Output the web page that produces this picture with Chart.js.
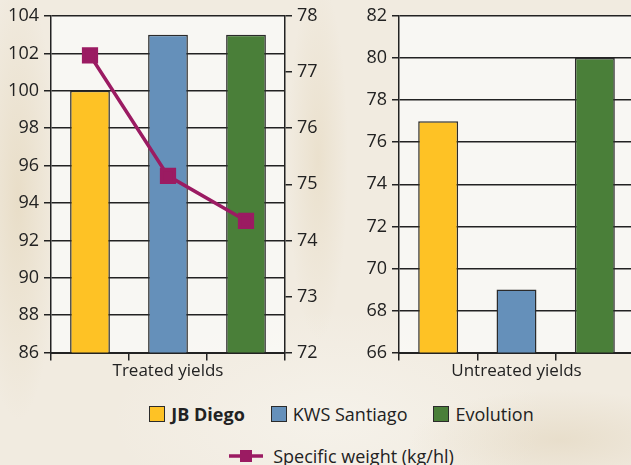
<!doctype html>
<html>

<head>
    <title>Treated and untreated yields</title>
    <script src="https://cdn.jsdelivr.net/npm/chart.js"></script>
    <style>
        body {
            margin: 0;
            width: 631px;
            height: 465px;
            overflow: hidden;
            position: relative;
            font-family: 'Open Sans', sans-serif;
            color: #222;
            background-color: #f1ebe0;
            background-image:
                radial-gradient(ellipse 40px 220px at 18px 200px, rgba(222, 205, 170, 0.45), transparent),
                radial-gradient(ellipse 30px 180px at 318px 160px, rgba(222, 205, 170, 0.35), transparent),
                radial-gradient(ellipse 150px 50px at 560px 440px, rgba(215, 198, 165, 0.35), transparent),
                radial-gradient(ellipse 220px 110px at 330px 420px, rgba(248, 246, 240, 0.6), transparent);
        }

        .box {
            position: absolute;
        }

        #legend {
            position: absolute;
            left: 26px;
            width: 631px;
            top: 400px;
            font-size: 18px;
        }

        .row {
            display: flex;
            justify-content: center;
            align-items: center;
            height: 28px;
        }

        .item {
            display: flex;
            align-items: center;
            margin: 0 13px;
        }

        .swatch {
            width: 14px;
            height: 14px;
            border: 1.5px solid #2b2b2b;
            margin-right: 6px;
        }
    </style>
</head>

<body>
    <div class="box" style="left:0;top:0;width:340px;height:385px"><canvas id="treated"></canvas></div>
    <div class="box" style="left:340px;top:0;width:340px;height:385px"><canvas id="untreated"></canvas></div>
    <div id="legend"></div>
    <script>
        const varieties = ['JB Diego', 'KWS Santiago', 'Evolution']
        const colours = ['#fec225', '#6590ba', '#4a7f39']
        const treated = [100, 103, 103]
        const untreated = [77, 69, 80]
        const specificWeight = [77.3, 75.15, 74.35]
        const lineColour = '#9b1b62'
        const lineLabel = 'Specific weight (kg/hl)'

        const tickFont = { family: 'Open Sans', size: 18 }
        const titleFont = { family: 'Open Sans', size: 17 }
        const ink = '#222'

        // pale panel behind each plot
        const plotBg = {
            id: 'plotBg',
            beforeDraw(chart) {
                const a = chart.chartArea
                const ctx = chart.ctx
                ctx.save()
                ctx.fillStyle = 'rgba(250, 250, 248, 0.8)'
                ctx.fillRect(a.left, a.top, a.right - a.left, a.bottom - a.top)
                ctx.restore()
            }
        }

        function xAxis(title) {
            return {
                offset: true,
                grid: { offset: true, drawOnChartArea: false, color: ink, lineWidth: 1.5, tickLength: 8 },
                border: { color: ink, width: 2 },
                ticks: { display: false },
                title: { display: true, text: title, color: ink, font: titleFont, padding: { top: 0 } }
            }
        }

        function yAxis(min, max, step, width, position) {
            return {
                position: position,
                min: min,
                max: max,
                afterFit: s => { s.width = width },
                grid: {
                    drawOnChartArea: position === 'left',
                    color: ink, lineWidth: 1.5, tickLength: 7
                },
                border: { color: ink, width: 1.5 },
                ticks: { stepSize: step, color: ink, font: tickFont, padding: 5 }
            }
        }

        const barSet = values => ({
            type: 'bar',
            data: values,
            backgroundColor: colours,
            borderColor: '#2b2b2b',
            borderWidth: 1.5,
            categoryPercentage: 1,
            barPercentage: 0.51,
            order: 1
        })

        new Chart(document.getElementById('treated'), {
            data: {
                labels: varieties,
                datasets: [
                    barSet(treated),
                    {
                        type: 'line',
                        label: lineLabel,
                        data: specificWeight,
                        yAxisID: 'y1',
                        borderColor: lineColour,
                        backgroundColor: lineColour,
                        borderWidth: 3.5,
                        pointStyle: 'rect',
                        pointRadius: 9,
                        pointHoverRadius: 9,
                        order: 0
                    }
                ]
            },
            options: {
                responsive: true,
                maintainAspectRatio: false,
                animation: false,
                layout: { padding: { top: 16, bottom: 0 } },
                scales: {
                    x: xAxis('Treated yields'),
                    y: yAxis(86, 104, 2, 51, 'left'),
                    y1: yAxis(72, 78, 1, 55, 'right')
                },
                plugins: { legend: { display: false }, tooltip: { enabled: false } }
            },
            plugins: [plotBg]
        })

        new Chart(document.getElementById('untreated'), {
            data: {
                labels: varieties,
                datasets: [barSet(untreated)]
            },
            options: {
                responsive: true,
                maintainAspectRatio: false,
                animation: false,
                layout: { padding: { top: 16, right: 46, bottom: 0 } },
                scales: {
                    x: xAxis('Untreated yields'),
                    y: yAxis(66, 82, 2, 59, 'left')
                },
                plugins: { legend: { display: false }, tooltip: { enabled: false } }
            },
            plugins: [plotBg]
        })

        // legend below the two panels
        const legend = document.getElementById('legend')
        const row1 = document.createElement('div')
        row1.className = 'row'
        varieties.forEach((v, i) => {
            const item = document.createElement('span')
            item.className = 'item'
            const sw = document.createElement('span')
            sw.className = 'swatch'
            sw.style.background = colours[i]
            const txt = document.createElement('span')
            txt.textContent = v
            if (i === 0) txt.style.fontWeight = 'bold'
            item.appendChild(sw)
            item.appendChild(txt)
            row1.appendChild(item)
        })
        const row2 = document.createElement('div')
        row2.className = 'row'
        row2.style.marginTop = '14px'
        row2.innerHTML = `<span class="item"><svg width="34" height="14" style="margin-right:10px">
            <line x1="0" y1="7" x2="34" y2="7" stroke="${lineColour}" stroke-width="3.5"/>
            <rect x="11" y="1" width="12" height="12" fill="${lineColour}"/></svg>${lineLabel}</span>`
        legend.appendChild(row1)
        legend.appendChild(row2)
    </script>
</body>

</html>
